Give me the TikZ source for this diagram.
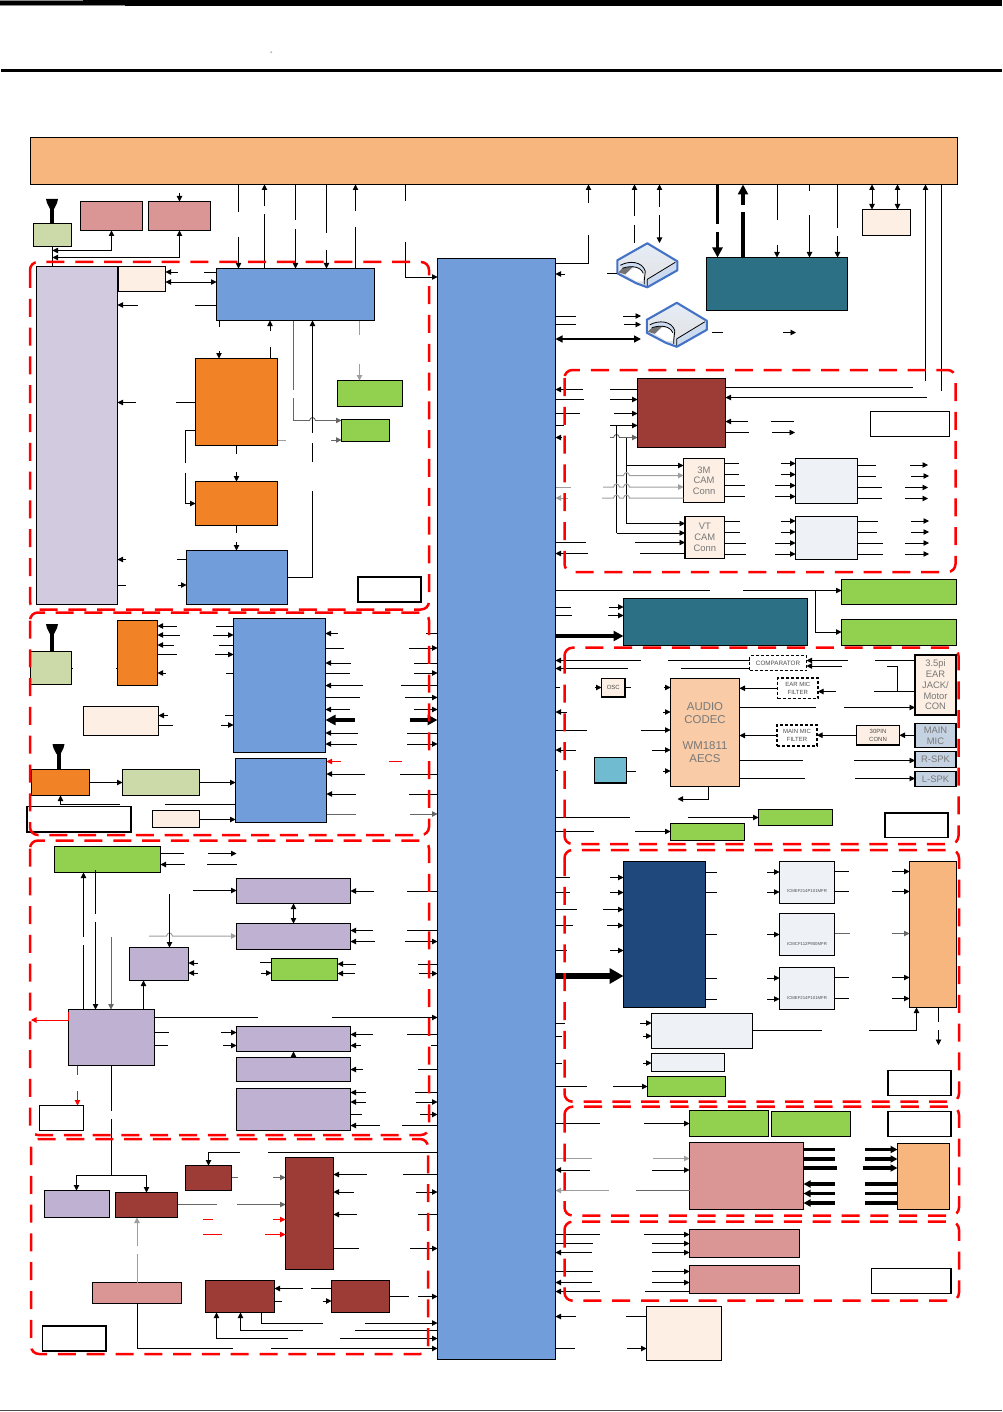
\documentclass[tikz,border=0pt]{standalone}
\usepackage{fontspec}
\setmainfont{Liberation Sans}
\usetikzlibrary{arrows.meta}
\definecolor{barorg}{RGB}{247,182,126}
\definecolor{apblue}{RGB}{113,158,219}
\definecolor{pink}{RGB}{217,150,148}
\definecolor{dred}{RGB}{157,59,54}
\definecolor{org}{RGB}{241,130,38}
\definecolor{teal2}{RGB}{43,112,133}
\definecolor{navy}{RGB}{31,73,125}
\definecolor{grn}{RGB}{146,209,79}
\definecolor{sage}{RGB}{203,218,168}
\definecolor{purp}{RGB}{191,177,209}
\definecolor{lav}{RGB}{210,202,223}
\definecolor{cream}{RGB}{253,239,227}
\definecolor{pale}{RGB}{238,241,246}
\definecolor{cyan2}{RGB}{112,187,208}
\definecolor{steel}{RGB}{197,210,226}
\definecolor{codec}{RGB}{249,203,166}
\definecolor{cardblue}{RGB}{68,114,196}
\definecolor{cardsd}{RGB}{205,219,240}
\definecolor{ink}{RGB}{120,120,120}
\tikzset{
  >={Triangle[length=5.5pt,width=5.5pt]},
  blk/.style={draw=black,line width=.9pt,inner sep=0pt,outer sep=0pt,align=center},
  thk/.style={blk,line width=1.9pt},
  dbox/.style={blk,fill=white,dash pattern=on 3pt off 2pt,line width=1.1pt},
  wbox/.style={blk,fill=white,line width=1.8pt},
  wire/.style={line width=.9pt,black},
  gw/.style={draw=black!60},
  lg/.style={draw=black!38,line width=1pt},
  rd/.style={draw=red},
  lt/.style={<-},
  rt/.style={->},
  nt/.style={},
  fat/.style={line width=3.6pt,>={Triangle[length=10pt,width=10pt]}},
  fatter/.style={line width=6pt,>={Triangle[length=14pt,width=15pt]}},
  mid/.style={line width=1.4pt,>={Triangle[length=7pt,width=7pt]}},
  zone/.style={draw=red,line width=2.5pt,dash pattern=on 18pt off 10.8pt,rounded corners=8pt},
  big/.style={font=\fontsize{11.4}{13.2}\selectfont,text=ink},
  med/.style={font=\fontsize{9.4}{10.7}\selectfont,text=ink},
  sml/.style={font=\fontsize{6}{8}\selectfont,text=black!70},
  tiny2/.style={font=\fontsize{4.3}{5}\selectfont,text=black!70},
  pics/antenna/.style={code={
    \draw[line width=4pt] (0,8) -- (0,#1);
    \fill (-6,0) -- (6,0) -- (5,4) -- (2,10) -- (-2,10) -- (-5,4) -- cycle;
  }},
  pics/sdcard/.style={code={
    \fill[top color=cardsd!50,bottom color=black!12] (0,0) -- (30,18) -- (30,27) -- (0,44) -- (-11,40) -- (-30,30) -- (-30,17) -- cycle;
    \fill[cardsd] (0,36) -- (29,19) -- (30,27) -- (0,44) -- (-3,42) -- (-3,37) -- cycle;
    \fill[cardsd] (-27,22) .. controls (-18,17) and (-5,18) .. (-2,28) -- (-5,28) .. controls (-9,23) and (-16,23) .. (-24,26) -- cycle;
    \fill[white] (-22,31) -- (-14,25) .. controls (-9,24) and (-6,26) .. (-4,30) -- (-4,38) -- (-11,38) -- cycle;
    \fill[black!55] (-29,29) -- (-25,25) -- (-14,23) -- (-22,31) -- cycle;
    \draw[line width=.8pt] (-27,22) .. controls (-18,17) and (-5,18) .. (-2,28) -- (-3,37) -- (-3,41);
    \draw[line width=.8pt] (-25,25) .. controls (-16,22) and (-7,23) .. (-4,30);
    \draw[line width=.8pt] (0,36) -- (28,19) (0,36) -- (0,43);
    \draw[cardblue,line width=2.1pt,line join=round] (0,0) -- (30,18) -- (30,27) -- (0,44) -- (-11,40) -- (-30,30) -- (-30,17) -- cycle;
  }},
}
\newcommand{\blk}[7]{\node[#1,anchor=north west,minimum width={(#5-#3)*1pt},minimum height={(#6-#4)*1pt}] (#2) at (#3,#4) {#7};}
\newcommand{\hgap}[8][]{%
  \draw[wire,#1,#7] (#2 |- 0,#4) -- (#5,#4);
  \draw[wire,#1,#8] (#6,#4) -- (#3 |- 0,#4);}
\newcommand{\vgap}[8][]{%
  \draw[wire,#1,#7] (#2 -| #4,0) -- (#4,#5);
  \draw[wire,#1,#8] (#4,#6) -- (#3 -| #4,0);}
\newcommand{\hop}[2]{-- ({#1-3},#2) .. controls ({#1-2},{#2-4}) and ({#1+2},{#2-4}) .. ({#1+3},#2)}

\begin{document}
\begin{tikzpicture}[x=1pt,y=-1pt]
  \useasboundingbox (0,0) rectangle (1002,1412);
  % page rules
  \fill (0,0) rectangle (1002,5.8);
  \fill[black!45] (0,0) rectangle (83,1);
  \fill[black!45] (0,5) rectangle (125,6.2);
  \draw[line width=3pt] (1,70.5) -- (1002,70.5);
  \draw[black!50,line width=.5pt] (270.4,53) -- (272,51.5);
  \draw[black!70,line width=1pt] (0,1410) -- (1002,1410);

  % main blocks
  \blk{blk,fill=barorg}{conn}{30.5}{137.5}{957.5}{184.5}{}
  \blk{blk,fill=apblue}{ap}{437.5}{258.5}{555.5}{1359.5}{}

  % region 1
  \blk{blk,fill=sage}{swA}{33.5}{223.5}{71.5}{246.5}{}
  \blk{blk,fill=pink}{gpsA}{80.5}{201.5}{142.5}{230.5}{}
  \blk{blk,fill=pink}{gpsB}{148.5}{201.5}{210.5}{230.5}{}
  \blk{blk,fill=lav}{modem}{36.5}{266.5}{117.5}{604.5}{}
  \blk{blk,fill=cream}{tcxo}{118.5}{266.5}{165.5}{291.5}{}
  \draw[line width=1.8pt] (tcxo.north west) -- (tcxo.south west);
  \blk{blk,fill=apblue}{rfb}{216.5}{268.5}{374.5}{320.5}{}
  \blk{blk,fill=org}{pamA}{195.5}{358.5}{277.5}{445.5}{}
  \blk{blk,fill=org}{pamB}{195.5}{481.5}{277.5}{525.5}{}
  \blk{blk,fill=apblue}{pmb}{186.5}{550.5}{287.5}{604.5}{}
  \blk{blk,fill=grn}{ldoA}{337.5}{380.5}{402.5}{406.5}{}
  \blk{blk,fill=grn}{ldoB}{341.5}{419.5}{389.5}{441.5}{}
  \blk{wbox}{tagA}{358}{577}{421}{602}{}

  % region 2
  \blk{blk,fill=sage}{swB}{30.5}{651.5}{71.5}{684.5}{}
  \blk{blk,fill=org}{wfem}{117.5}{620.5}{157.5}{685.5}{}
  \blk{blk,fill=apblue}{wifi}{233.5}{618.5}{325.5}{752.5}{}
  \blk{blk,fill=cream}{wclk}{83.5}{706.5}{158.5}{735.5}{}
  \blk{blk,fill=org}{fmA}{31.5}{769.5}{89.5}{795.5}{}
  \blk{blk,fill=sage}{fmB}{122.5}{769.5}{199.5}{795.5}{}
  \blk{blk,fill=apblue}{fmrx}{235.5}{758.5}{326.5}{822.5}{}
  \blk{wbox}{tagB}{27}{806.5}{131}{832}{}
  \blk{blk,fill=cream}{fmclk}{152.5}{810.5}{199.5}{827.5}{}

  % region 3
  \blk{blk,fill=grn}{batt}{54.5}{846.5}{160.5}{872.5}{}
  \blk{blk,fill=purp}{pwrA}{236.5}{878.5}{350.5}{903.5}{}
  \blk{blk,fill=purp}{pwrB}{236.5}{923.5}{350.5}{949.5}{}
  \blk{blk,fill=purp}{pwrC}{129.5}{947.5}{188.5}{980.5}{}
  \blk{blk,fill=grn}{pwrD}{271.5}{958.5}{337.5}{980.5}{}
  \blk{blk,fill=purp}{pmic}{68.5}{1009.5}{154.5}{1065.5}{}
  \blk{blk,fill=purp}{pwrE}{236.5}{1026.5}{350.5}{1051.5}{}
  \blk{blk,fill=purp}{pwrF}{236.5}{1057.5}{350.5}{1081.5}{}
  \blk{blk,fill=purp}{pwrG}{236.5}{1088.5}{350.5}{1130.5}{}
  \blk{blk,fill=white}{tagC}{39.5}{1105.5}{83.5}{1130.5}{}

  % region 4
  \blk{blk,fill=purp}{usbA}{44.5}{1190.5}{109.5}{1217.5}{}
  \blk{blk,fill=dred}{usbB}{115.5}{1192.5}{177.5}{1217.5}{}
  \blk{blk,fill=dred}{usbC}{185.5}{1165.5}{231.5}{1190.5}{}
  \blk{blk,fill=dred}{usw}{285.5}{1157.5}{333.5}{1269.5}{}
  \blk{blk,fill=pink}{usbD}{92.5}{1282.5}{181.5}{1303.5}{}
  \blk{blk,fill=dred}{usbE}{205.5}{1280.5}{274.5}{1312.5}{}
  \blk{blk,fill=dred}{usbF}{331.5}{1280.5}{389.5}{1312.5}{}
  \blk{wbox}{tagD}{42.5}{1326}{106}{1351}{}

  % top right
  \blk{blk,fill=teal2}{lcdA}{706.5}{257.5}{847.5}{310.5}{}
  \blk{blk,fill=cream}{simc}{862.5}{209.5}{910.5}{235.5}{}
  \pic at (647.3,243.3) {sdcard};
  \pic at (676.8,302.8) {sdcard};
  \coordinate (cardA) at (617,273.5);
  \coordinate (cardB) at (641,316);

  % camera region
  \blk{blk,fill=dred}{pmcam}{637.5}{378.5}{725.5}{447.5}{}
  \blk{blk,fill=white}{tagE}{870.5}{411.5}{949.5}{436.5}{}
  \blk{thk,line width=1.4pt,fill=cream,med}{camA}{683.5}{458.5}{724.5}{502.5}{3M\\CAM\\Conn}
  \blk{thk,fill=cream,med}{camB}{685}{516.5}{724.5}{558.5}{VT\\CAM\\Conn}
  \blk{blk,fill=pale}{emiA}{795.5}{458.5}{857.5}{503.5}{}
  \blk{blk,fill=pale}{emiB}{795.5}{516.5}{857.5}{559.5}{}
  \blk{blk,fill=grn}{bkA}{841.5}{579.5}{956.5}{604.5}{}
  \blk{blk,fill=grn}{bkB}{841.5}{619.5}{956.5}{645.5}{}
  \blk{blk,fill=teal2}{lcdB}{623.5}{598.5}{807.5}{645.5}{}

  % audio region
  \blk{dbox,sml,font=\fontsize{6.3}{8}\selectfont}{cmp}{749.5}{655.5}{806.5}{670.5}{COMPARATOR}
  \blk{blk,fill=codec,big}{aud}{670.5}{678.5}{739.5}{786.5}{AUDIO\\CODEC\\[13.2pt]WM1811\\AECS}
  \blk{dbox,sml}{earf}{777.5}{678}{818}{698.5}{EAR MIC\\FILTER}
  \blk{dbox,sml}{micf}{777}{725}{817}{746}{MAIN MIC\\FILTER}
  \blk{blk,line width=1.2pt,fill=cream,sml}{pin}{856.5}{725.5}{899.5}{745}{30PIN\\CONN}
  \blk{thk,fill=cream,med}{jack}{915}{655}{956}{715}{3.5pi\\EAR\\JACK/\\Motor\\CON}
  \blk{blk,line width=1.2pt,fill=steel,med}{mmic}{915}{723.5}{956}{747.5}{MAIN\\MIC}
  \blk{blk,line width=1.2pt,fill=steel,med}{rspk}{915}{751.5}{956}{767.5}{R-SPK}
  \blk{thk,line width=1.5pt,fill=steel,med}{lspk}{915}{771.5}{956}{786.5}{L-SPK}
  \blk{thk,line width=1.5pt,fill=cream,sml}{osc}{601.5}{678.5}{625}{697}{OSC}
  \blk{thk,line width=1.5pt,fill=cyan2}{vib}{594.5}{757.5}{626.5}{783}{}
  \blk{blk,fill=grn}{audA}{758.5}{809.5}{832.5}{825.5}{}
  \blk{blk,fill=grn}{audB}{670.5}{823.5}{744.5}{840.5}{}
  \blk{wbox}{tagF}{885}{813}{948}{837.5}{}

  % memory region
  \blk{blk,fill=navy}{mem}{623.5}{861.5}{705.5}{1007.5}{}
  \blk{blk,fill=pale}{emiC}{779.5}{861.5}{834.5}{903.5}{}
  \blk{blk,fill=pale}{emiD}{779.5}{913.5}{834.5}{955.5}{}
  \blk{blk,fill=pale}{emiE}{779.5}{967.5}{834.5}{1009.5}{}
  \node[tiny2] (emiCt) at (807,891) {ICMEF214P101MFR};
  \node[tiny2] (emiDt) at (807,944) {ICMCF112P900MFR};
  \node[tiny2] (emiEt) at (807,998) {ICMEF214P101MFR};
  \blk{blk,fill=barorg}{lcdc}{909.5}{861.5}{956.5}{1007.5}{}
  \blk{blk,fill=pale}{memA}{651.5}{1013.5}{752.5}{1048.5}{}
  \blk{blk,fill=pale}{memB}{651.5}{1053.5}{724.5}{1071.5}{}
  \blk{blk,fill=grn}{memC}{647.5}{1076.5}{725.5}{1096.5}{}
  \blk{wbox}{tagG}{888}{1070.5}{951}{1095.5}{}

  % sensor region
  \blk{blk,fill=grn}{tpA}{689.5}{1110.5}{768.5}{1136.5}{}
  \blk{blk,fill=grn}{tpB}{771.5}{1111.5}{850.5}{1136.5}{}
  \blk{wbox}{tagH}{888}{1111.5}{951}{1136.5}{}
  \blk{blk,fill=pink}{tsp}{689.5}{1142.5}{803.5}{1209.5}{}
  \blk{blk,fill=barorg}{tsc}{897.5}{1143.5}{949.5}{1209.5}{}
  \blk{blk,fill=pink}{senA}{689.5}{1229.5}{799.5}{1257.5}{}
  \blk{blk,fill=pink}{senB}{689.5}{1265.5}{799.5}{1293.5}{}
  \blk{blk,line width=1.4pt,fill=white}{tagI}{871.5}{1268.5}{951}{1293.5}{}
  \blk{blk,fill=cream}{misc}{646.5}{1306.5}{721.5}{1360.5}{}

  % antennas
  \pic at (52,199) {antenna=24};
  \pic at (52,624) {antenna=27};
  \pic at (58.5,744) {antenna=25};

  % GPS and antenna switch
  \draw[wire] (swA.south) -- (modem.north -| swA.south);
  \draw[wire,<->] (swA.south |- 0,250.5) -| (gpsA.south);
  \draw[wire,<->] (swA.south |- 0,257.5) -| (gpsB.south);
  \draw[wire,<-] (gpsB.north) -- (179.5,193);

  % connector bar down to RF
  \vgap{conn.south}{rfb.north}{238.5}{212}{237}{nt}{rt}
  \vgap{conn.south}{rfb.north}{264.5}{206}{214}{lt}{nt}
  \vgap{conn.south}{rfb.north}{295.5}{220}{229}{nt}{rt}
  \vgap{conn.south}{rfb.north}{326.5}{233}{250}{nt}{rt}
  \vgap{conn.south}{rfb.north}{355.5}{211}{227}{lt}{nt}
  \draw[wire] (conn.south -| 405.5,0) -- (405.5,201);
  \draw[wire,->] (405.5,242) |- (ap.west |- 0,277);

  % region 1 wires
  \draw[wire,<-] (tcxo.east |- 0,272) -- (177.5,272);
  \draw[wire] (204,272) -- (rfb.west |- 0,272);
  \draw[wire,<->] (tcxo.east |- 0,282) -- (rfb.west |- 0,282);
  \hgap{modem.east}{rfb.west}{305}{138}{195}{lt}{nt}
  \draw[wire] (rfb.south -| 219.5,0) -- (219.5,327);
  \draw[wire,<-] (rfb.south -| 270,0) -- (270,331);
  \draw[wire] (270,347) -- (pamA.north -| 270,0);
  \draw[wire,->] (219,351) -- (pamA.north -| 219,0);
  \draw[wire,gw] (rfb.south -| 293.5,0) -- (293.5,390);
  \draw[wire,gw,->] (293.5,398) -- (293.5,420.5) \hop{312.5}{420.5} -- (ldoB.west |- 0,420.5);
  \draw[wire,<-] (rfb.south -| 312.5,0) -- (312.5,433);
  \draw[wire] (312.5,443) -- (312.5,462);
  \draw[wire] (312.5,491) |- (pmb.east |- 0,577.5);
  \vgap[lg]{rfb.south}{ldoA.north}{359.5}{335}{364}{nt}{rt}
  \hgap{modem.east}{pamA.west}{402.5}{136}{176}{lt}{nt}
  \draw[wire] (pamA.west |- 0,430) -- (185.5,430) -- (185.5,463);
  \draw[wire,->] (185.5,473) |- (pamB.west |- 0,503.5);
  \draw[wire,lg] (pamA.east |- 0,440) -- (286,440);
  \draw[wire,gw,->] (331,440) -- (ldoB.west |- 0,440);
  \vgap{pamA.south}{pamB.north}{236.5}{454}{472}{nt}{rt}
  \vgap{pamB.south}{pmb.north}{236.5}{533}{542}{nt}{rt}
  \hgap{modem.east}{pmb.west}{559.5}{126}{177}{lt}{nt}
  \hgap{modem.east}{pmb.west}{585}{126}{178}{nt}{rt}

  % region 2 wires
  \draw[wire] (swB.east |- 0,668) -- (73,668);
  \draw[wire] (116,668) -- (wfem.west |- 0,668);
  \foreach \y/\p/\q/\ta/\tb in {626/177/216/lt/nt,635/180/213/lt/rt,645/174/219/lt/nt,654.5/177/215/nt/rt,673/166/226/lt/nt}
    {\hgap{wfem.east}{wifi.west}{\y}{\p}{\q}{\ta}{\tb}}
  \foreach \y/\p/\q/\ta/\tb in {715.5/168/225/lt/nt,725/173/221/nt/rt}
    {\hgap{wclk.east}{wifi.west}{\y}{\p}{\q}{\ta}{\tb}}
  \draw[wire,->] (fmA.east) -- (fmB.west);
  \draw[wire,->] (fmB.east) -- (fmrx.west |- fmB.east);
  \draw[wire] (fmrx.west |- 0,804) -- (165,804);
  \draw[wire,->] (120,804) -| (fmA.south -| 60.5,0);
  \draw[wire,->] (fmclk.east |- 0,819.5) -- (fmrx.west |- 0,819.5);
  \foreach \y/\p/\q/\ta/\tb in {633.5/338/426/lt/nt,648/344/409/nt/rt,663/351/414/lt/nt,673/350/414/nt/rt,685.5/363/401/lt/nt,697.5/360/405/nt/rt,709.5/350/414/lt/rt,733/358/407/lt/nt,744/357/407/lt/rt}
    {\hgap{wifi.east}{ap.west}{\y}{\p}{\q}{\ta}{\tb}}
  \hgap[fat]{wifi.east}{ap.west}{720}{355}{410}{lt}{rt}
  \draw[wire,rd,<-] (fmrx.east |- 0,761.5) -- (341,761.5);
  \draw[wire,rd] (389,761.5) -- (402,761.5);
  \foreach \y/\p/\q in {774/365/400,794/356/409}
    {\hgap{fmrx.east}{ap.west}{\y}{\p}{\q}{lt}{nt}}
  \hgap[gw]{fmrx.east}{ap.west}{814}{356}{410}{nt}{rt}

  % region 3 wires
  \hgap{batt.east}{pwrA.west}{853.5}{184}{208}{nt}{rt}
  \draw[wire,<-] (batt.east |- 0,864.5) -- (185,864.5);
  \draw[wire] (207,864.5) -- (237,864.5);
  \vgap{batt.south}{pmic.north}{83.5}{937}{945}{lt}{nt}
  \draw[wire] (95.5,870) -- (95.5,914);
  \draw[wire,->] (95.5,922) -- (pmic.north -| 95.5,0);
  \draw[wire,gw,->] (111,937) -- (pmic.north -| 111,0);
  \draw[wire,->] (193,890.5) -- (pwrA.west |- 0,890.5);
  \draw[wire,<->] (pwrA.south -| 293.5,0) -- (pwrB.north -| 293.5,0);
  \draw[wire,lg,->] (149,936) \hop{169.5}{936} -- (pwrB.west |- 0,936);
  \draw[wire,->] (169.5,894) -- (pwrC.north -| 169.5,0);
  \foreach \y/\p/\q/\tb in {891/374/407/nt,930.5/373/407/nt,941.5/375/405/rt}
    {\hgap{pwrA.east}{ap.west}{\y}{\p}{\q}{lt}{\tb}}
  \foreach \y in {963,973} {\draw[wire,<-] (pwrC.east |- 0,\y) -- (198,\y);}
  \draw[wire] (260,962) -- (pwrD.west |- 0,962);
  \draw[wire,->] (261,973) -- (pwrD.west |- 0,973);
  \hgap{pwrD.east}{ap.west}{964}{356}{418}{lt}{nt}
  \hgap{pwrD.east}{ap.west}{973.5}{355}{419}{lt}{rt}
  \draw[wire,->] (pmic.north -| 143.5,0) -- (pwrC.south -| 143.5,0);
  \draw[wire,rd] (68.5,1012) -- (68.5,1020);
  \draw[wire,rd,->] (68.5,1020) -- (31,1020);
  \hgap{pmic.east}{ap.west}{1017.5}{258}{332}{nt}{rt}
  \hgap{pmic.east}{pwrE.west}{1032.5}{169}{221}{nt}{rt}
  \hgap{pmic.east}{pwrE.west}{1045.5}{168}{223}{nt}{rt}
  \foreach \y/\p/\q in {1034.5/373/407,1045.5/361/431}
    {\hgap{pwrE.east}{ap.west}{\y}{\p}{\q}{lt}{nt}}
  \draw[wire,->] (pwrF.north -| 293.5,0) -- (pwrE.south -| 293.5,0);
  \hgap{pwrF.east}{ap.west}{1069.5}{363}{418}{lt}{nt}
  \foreach \y/\p/\q/\ta/\tb in {1092.5/366/415/lt/nt,1102/366/416/lt/rt,1114.5/362/420/nt/rt,1125.5/380/402/lt/nt}
    {\hgap{pwrG.east}{ap.west}{\y}{\p}{\q}{\ta}{\tb}}
  \vgap[rd]{pmic.south}{tagC.north}{77.5}{1075}{1091}{nt}{rt}

  % region 4 wires
  \draw[wire] (pmic.south -| 111.5,0) -- (111.5,1110.5);
  \draw[wire] (111.5,1119) -- (111.5,1175.5);
  \draw[wire,->] (111.5,1175.5) -| (usbA.north -| 76.5,0);
  \draw[wire,->] (111.5,1175.5) -| (usbB.north -| 146.5,0);
  \vgap[lg]{usbB.south}{usbD.north}{137}{1246}{1254}{lt}{nt}
  \draw[wire] (usbD.south -| 137.5,0) |- (233,1348.5);
  \draw[wire,->] (271,1348.5) -- (ap.west |- 0,1348.5);
  \draw[wire,->] (240,1152.5) -| (usbC.north);
  \draw[wire] (268,1152.5) -- (ap.west |- 0,1152.5);
  \hgap[gw]{usbC.east}{usw.west}{1177.5}{238}{273}{nt}{rt}
  \hgap[gw]{usbB.east}{usw.west}{1204.5}{217}{237}{nt}{rt}
  \draw[wire,rd] (203,1219.5) -- (213,1219.5);
  \draw[wire,rd,->] (273,1219.5) -- (usw.west |- 0,1219.5);
  \draw[wire,rd] (203,1234.5) -- (222,1234.5);
  \draw[wire,rd,->] (265,1234.5) -- (usw.west |- 0,1234.5);
  \foreach \y/\p/\q/\ta/\tb in {1174.5/367/403/lt/nt,1192/354/416/lt/rt,1214.5/357/418/lt/nt,1248.5/359/410/nt/rt}
    {\hgap{usw.east}{ap.west}{\y}{\p}{\q}{\ta}{\tb}}
  \hgap{usbE.east}{usbF.west}{1288.5}{303}{311}{lt}{nt}
  \hgap{usbE.east}{usbF.west}{1301}{282}{323}{nt}{rt}
  \hgap{usbF.east}{ap.west}{1296.5}{409}{418}{nt}{rt}
  \draw[wire] (usbE.south -| 261.5,0) |- (323,1323);
  \draw[wire,->] (365,1323) -- (ap.west |- 0,1323);
  \draw[wire,<-] (usbE.south -| 240.5,0) |- (303,1330.5);
  \draw[wire] (355,1330.5) -- (ap.west |- 0,1330.5);
  \draw[wire,<-] (usbE.south -| 216.5,0) |- (288,1338.5);
  \draw[wire,->] (340,1338.5) -- (ap.west |- 0,1338.5);

  % top right wires
  \draw[wire] (ap.east |- 0,263.5) -| (588.5,235);
  \draw[wire,->] (588.5,203) -- (conn.south -| 588.5,0);
  \draw[wire,<-] (conn.south -| 634.5,0) -- (634.5,216.5);
  \draw[wire] (634.5,225) -- (634.5,243);
  \draw[wire,<-] (conn.south -| 659.5,0) -- (659.5,207);
  \draw[wire,->] (659.5,215) -- (659.5,243);
  \draw[wire,<-] (ap.east |- 0,274) -- (565,274);
  \draw[wire] (607,273.5) -- (cardA);
  \foreach \y/\p/\q in {316/576/623,324.5/576/624}
    {\draw[wire] (ap.east |- 0,\y) -- (\p,\y); \draw[wire,->] (\q,\y) -- (641,\y);}
  \draw[wire,mid,<->] (ap.east |- 0,339) -- (641,339);
  \draw[wire] (712,332.5) -- (723,332.5);
  \draw[wire,->] (783,332.5) -- (796,332.5);
  \vgap[fat]{conn.south}{lcdA.north}{717.5}{224}{232}{nt}{rt}
  \vgap[fat]{conn.south}{lcdA.north}{743}{205}{212}{lt}{nt}
  \vgap{conn.south}{lcdA.north}{777}{220}{245}{nt}{rt}
  \vgap{conn.south}{lcdA.north}{809.5}{191}{215}{nt}{rt}
  \vgap{conn.south}{lcdA.north}{837.5}{228}{236}{nt}{rt}
  \draw[wire,<->] (conn.south -| 872,0) -- (simc.north -| 872,0);
  \draw[wire,<->] (conn.south -| 897.5,0) -- (simc.north -| 897.5,0);
  \draw[wire,<-] (conn.south -| 925.5,0) -- (925.5,381);
  \draw[wire] (conn.south -| 941.5,0) -- (941.5,391);

  % camera wires
  \draw[wire] (pmcam.east |- 0,387.5) -- (913,387.5);
  \draw[wire,<-] (pmcam.east |- 0,397.5) -- (927,397.5);
  \draw[wire,<-] (pmcam.east |- 0,421.5) -- (748,421.5);
  \draw[wire] (771,421.5) -- (794,421.5);
  \draw[wire] (pmcam.east |- 0,432.5) -- (749,432.5);
  \draw[wire,->] (772,432.5) -- (795,432.5);
  \foreach \y/\p/\q/\ta/\tb in {389.5/583/610/lt/nt,399.5/584/610/nt/rt,413.5/580/614/nt/rt,425.5/564/610/nt/rt}
    {\hgap{ap.east}{pmcam.west}{\y}{\p}{\q}{\ta}{\tb}}
  \draw[wire,<-] (ap.east |- 0,437.5) -- (562,437.5);
  \draw[wire,gw,->] (610,437.5) \hop{616.5}{437.5} -- (pmcam.west |- 0,437.5);
  \draw[wire] (616.5,425.5) -- (616.5,533);
  \draw[wire,->] (616.5,533) -- (camB.west |- 0,533);
  \draw[wire,->] (626.5,437.5) |- (camB.west |- 0,523.5);
  \draw[wire,->] (626.5,465.5) -- (camA.west |- 0,465.5);
  \draw[wire,lg,->] (617,475.5) \hop{626.5}{475.5} -- (camA.west |- 0,475.5);
  \draw[wire,lg,->] (603,487) \hop{616.5}{487} \hop{626.5}{487} -- (camA.west |- 0,487);
  \draw[wire,lg] (602,498) \hop{616.5}{498} \hop{626.5}{498} -- (camA.west |- 0,498);
  \draw[wire,lg] (ap.east |- 0,487) -- (571,487);
  \draw[wire,lg,<-] (ap.east |- 0,498) -- (568,498);
  \hgap{ap.east}{camB.west}{542.5}{586}{635}{nt}{rt}
  \hgap{ap.east}{camB.west}{553.5}{588}{640}{lt}{nt}
  \foreach \y/\p/\q in {463.5/739/781,474.5/739/781,485.5/745/775,496.5/745/775}
    {\hgap{camA.east}{emiA.west}{\y}{\p}{\q}{nt}{rt}}
  \foreach \y/\p/\q in {521/740/781,532/740/781,543/746/775,554/746/775}
    {\hgap{camB.east}{emiB.west}{\y}{\p}{\q}{nt}{rt}}
  \foreach \y/\p/\q/\r in {465/876/910/928,476/876/911/929,487.5/882/905/928,498.5/882/905/928,521/878/911/929,532/877/911/929,543/883/905/929,554/883/905/929}
    {\draw[wire] (emiA.east |- 0,\y) -- (\p,\y); \draw[wire,->] (\q,\y) -- (\r,\y);}

  % display wires
  \hgap{ap.east}{bkA.west}{590.5}{710}{743}{nt}{rt}
  \draw[wire,->] (815.5,590.5) |- (bkB.west |- 0,632);
  \foreach \y/\p/\q in {607/571/609,615.5/572/608}
    {\hgap{ap.east}{lcdB.west}{\y}{\p}{\q}{nt}{rt}}
  \draw[wire,fat,->] (ap.east |- 0,636) -- (lcdB.west |- 0,636);

  % audio wires
  \hgap{ap.east}{cmp.west}{660.5}{641}{668}{lt}{nt}
  \hgap{ap.east}{cmp.west}{668.5}{628}{681}{lt}{nt}
  \hgap{cmp.east}{jack.west}{660.5}{848}{875}{lt}{nt}
  \draw[wire,<-] (cmp.east |- 0,666) -- (842,666);
  \draw[wire] (887,666) -| (897.5,691.5);
  \draw[wire,->] (earf.west) -- (aud.east |- earf.west);
  \hgap{earf.east}{jack.west}{691.5}{836}{874}{lt}{nt}
  \hgap{aud.east}{jack.west}{707.5}{816}{844}{nt}{rt}
  \draw[wire,->] (micf.west) -- (aud.east |- micf.west);
  \draw[wire,->] (pin.west) -- (micf.east |- pin.west);
  \draw[wire,->] (mmic.west |- pin.east) -- (pin.east);
  \hgap{aud.east}{rspk.west}{760.5}{803}{854}{nt}{rt}
  \hgap{aud.east}{lspk.west}{778.5}{805}{855}{nt}{rt}
  \draw[wire] (ap.east |- 0,687.5) -- (560,687.5);
  \draw[wire,->] (595,687.5) -- (osc.west |- 0,687.5);
  \hgap{osc.east}{aud.west}{687.5}{631}{664}{nt}{rt}
  \foreach \y/\p/\q/\ta in {712/567/663/lt,730/587/641/nt,750/576/652/lt}
    {\hgap{ap.east}{aud.west}{\y}{\p}{\q}{\ta}{rt}}
  \draw[wire] (ap.east |- 0,770) -- (558,770);
  \hgap{vib.east}{aud.west}{771}{636}{663}{nt}{rt}
  \draw[wire,->] (aud.south -| 708.5,0) |- (677.5,799);
  \hgap{ap.east}{audA.west}{817.5}{630}{688}{nt}{rt}
  \hgap{ap.east}{audB.west}{831.5}{594}{635}{nt}{rt}

  % memory wires
  \foreach \y/\p/\q in {877.5/570/610,892.5/570/610,909.5/577/603,925.5/573/607,950.5/567/610}
    {\hgap{ap.east}{mem.west}{\y}{\p}{\q}{nt}{rt}}
  \draw[wire,fatter,->] (ap.east |- 0,976) -- (mem.west |- 0,976);
  \foreach \y/\yy in {872.5/872,892.5/892,934.5/934.5,978/978,999/999}
    {\draw[wire] (mem.east |- 0,\y) -- (717,\y); \draw[wire,->] (767,\yy) -- (emiC.west |- 0,\yy);}
  \foreach \y in {871.5,891.5,977.5,998.5}
    {\hgap{emiC.east}{lcdc.west}{\y}{849}{892}{nt}{rt}}
  \hgap[gw]{emiD.east}{lcdc.west}{933.5}{850}{892}{nt}{rt}
  \draw[wire] (memA.east |- 0,1030.5) -- (822,1030.5);
  \draw[wire,->] (869,1030.5) -| (lcdc.south -| 916.5,0);
  \draw[wire] (lcdc.south -| 938.5,0) -- (938.5,1022);
  \draw[wire,->] (938.5,1030) -- (938.5,1045);
  \hgap{ap.east}{memA.west}{1023}{565}{640}{nt}{rt}
  \hgap{ap.east}{memA.west}{1036}{562}{643}{nt}{rt}
  \hgap{ap.east}{memB.west}{1063}{562}{643}{nt}{rt}
  \hgap{ap.east}{memC.west}{1086.5}{587}{613}{nt}{rt}

  % sensor wires
  \hgap{ap.east}{tpA.west}{1123.5}{600}{644}{nt}{rt}
  \hgap[lg]{ap.east}{tsp.west}{1158.5}{592}{653}{nt}{rt}
  \hgap{ap.east}{tsp.west}{1170}{590}{652}{lt}{rt}
  \draw[wire,lg,<-] (ap.east |- 0,1190.5) -- (609,1190.5);
  \draw[wire,gw] (636,1190.5) -- (tsp.west |- 0,1190.5);
  \foreach \y/\p/\q in {1149.5/835/865,1159/835/865,1168/837/863}
    {\hgap[fat,>={Triangle[length=7pt,width=7pt]}]{tsp.east}{tsc.west}{\y}{\p}{\q}{nt}{rt}}
  \foreach \y in {1184,1193.5,1203}
    {\hgap[fat,>={Triangle[length=7pt,width=7pt]}]{tsp.east}{tsc.west}{\y}{835}{865}{lt}{nt}}
  \hgap{ap.east}{senA.west}{1234.5}{600}{644}{nt}{rt}
  \hgap{ap.east}{senA.west}{1243.5}{593}{652}{nt}{rt}
  \hgap{ap.east}{senA.west}{1252.5}{592}{652}{lt}{rt}
  \hgap{ap.east}{senB.west}{1271.5}{593}{652}{nt}{rt}
  \hgap{ap.east}{senB.west}{1282.5}{592}{652}{lt}{rt}
  \hgap{ap.east}{senB.west}{1291.5}{600}{645}{lt}{nt}
  \hgap{ap.east}{misc.west}{1316.5}{576}{626}{lt}{nt}
  \hgap{ap.east}{misc.west}{1348.5}{575}{627}{nt}{rt}

  % dashed zones
  \foreach \xa/\ya/\xb/\yb in {30/262/429/609.5,30/612.5/429/835,30/840.5/429/1135,31/1139/428/1354,
    564.5/370/955.5/572,564.5/647.7/958.5/844,564.5/850/959/1101.7,564.5/1106.7/959/1215.5,564.5/1221.7/959/1300.7}
    {\draw[zone] (\xa,\ya) rectangle (\xb,\yb);}
\end{tikzpicture}
\end{document}
